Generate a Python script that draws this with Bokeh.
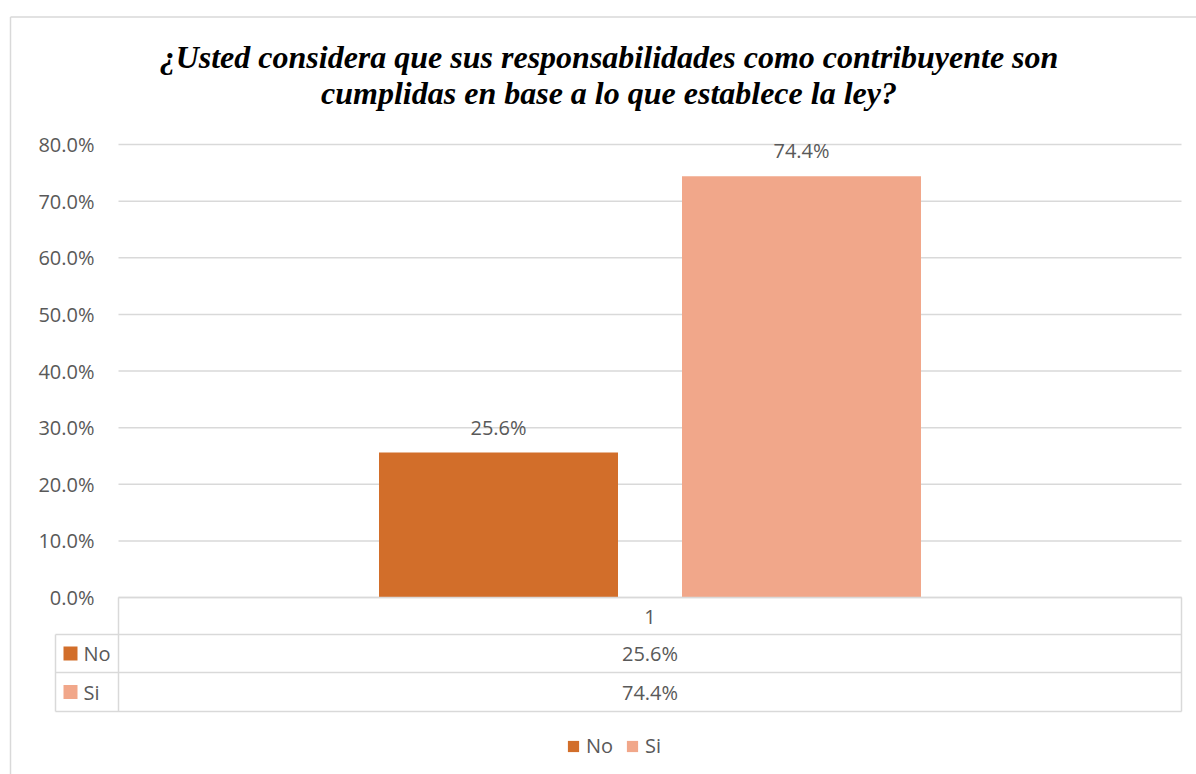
from bokeh.plotting import figure
from bokeh.models import (Range1d, LinearAxis, FixedTicker, NumeralTickFormatter,
                          Legend, LegendItem)
from bokeh.core.properties import value
from bokeh.embed import file_html
from bokeh.resources import INLINE

# ---------------- data ----------------
title_lines = ["¿Usted considera que sus responsabilidades como contribuyente son",
               "cumplidas en base a lo que establece la ley?"]
categories = ["1"]
series = ["No", "Si"]
values_no = [0.256]
values_si = [0.744]
y_ticks = [0.0, 0.1, 0.2, 0.3, 0.4, 0.5, 0.6, 0.7, 0.8]
colors = ["#D26E2A", "#F1A78A"]

# ---------------- layout (page pixels) ----------------
W, H = 1196, 774
OX, OY = 0, 0
PX_L, PX_R = 118, 1181
PY_TOP, PY_ZERO = 144, 597
Y_MAX = 0.8
xs = (PX_R - PX_L) / 1.0
ys = (PY_ZERO - PY_TOP) / Y_MAX

def dx(px):
    return 0.5 + (px - PX_L) / xs

def dy(py):
    return (PY_ZERO - py) / ys

p = figure(width=W, height=H, output_backend="svg", toolbar_location=None,
           x_range=Range1d(dx(OX), dx(OX + W)), y_range=Range1d(dy(OY + H), dy(OY)),
           x_axis_location=None, y_axis_location=None, min_border=0)
p.outline_line_color = None
p.xgrid.visible = False
p.ygrid.visible = False
p.background_fill_color = "white"
p.border_fill_color = "white"

GRID = "#D9D9D9"
TXT = "#595959"
FONT_NAME = "Open Sans"
FONT = value(FONT_NAME)
FS = "20px"

# chart border (left and top edges visible)
p.segment(x0=[dx(10), dx(10)], y0=[dy(16.5), dy(16.5)],
          x1=[dx(10), dx(1210)], y1=[dy(800), dy(16.5)],
          line_color=GRID, line_width=1.5)

# gridlines
p.segment(x0=[0.5] * len(y_ticks), y0=y_ticks, x1=[1.5] * len(y_ticks), y1=y_ticks,
          line_color=GRID, line_width=1.5)

# y axis
ax = LinearAxis(fixed_location=0.5, ticker=FixedTicker(ticks=y_ticks),
                formatter=NumeralTickFormatter(format="0.0%"))
ax.axis_line_color = None
ax.major_tick_line_color = None
ax.minor_tick_line_color = None
ax.major_tick_out = 0
ax.major_tick_in = 0
ax.major_label_standoff = 24
ax.major_label_text_font = FONT_NAME
ax.major_label_text_font_size = FS
ax.major_label_text_color = TXT
p.add_layout(ax, "left")

# bars
bar_w = 239 / xs
off = (239 / 2 + 32) / xs
x_no = [1 - off]
x_si = [1 + off]
r_no = p.vbar(x=x_no, top=values_no, bottom=0, width=bar_w, fill_color=colors[0], line_color=None)
r_si = p.vbar(x=x_si, top=values_si, bottom=0, width=bar_w, fill_color=colors[1], line_color=None)

# data labels
p.text(x=x_no + x_si, y=values_no + values_si,
       text=[f"{v * 100:.1f}%" for v in values_no + values_si],
       text_align="center", text_baseline="middle", y_offset=-25.5,
       text_font=FONT, text_font_size=FS, text_color=TXT)

# title
p.text(x=[dx(608.5)] * 2, y=[dy(56.5), dy(92.5)], text=title_lines,
       text_align="center", text_baseline="middle",
       text_font=value("Liberation Serif"), text_font_style="bold italic",
       text_font_size="32px", text_color="black")

# data table lines
hx0 = [dx(118), dx(55), dx(55), dx(55)]
hy = [dy(597), dy(634), dy(672), dy(711)]
hx1 = [dx(1181)] * 4
p.segment(x0=hx0, y0=hy, x1=hx1, y1=hy, line_color=GRID, line_width=1.5)
p.segment(x0=[dx(55), dx(118), dx(1181)], y0=[dy(634), dy(597), dy(597)],
          x1=[dx(55), dx(118), dx(1181)], y1=[dy(711)] * 3,
          line_color=GRID, line_width=1.5)

# table header and values
p.text(x=[1], y=[dy(616)], text=categories, text_align="center", text_baseline="middle",
       text_font=FONT, text_font_size=FS, text_color=TXT)
row_y = [dy(653), dy(691.5)]
p.scatter(x=[dx(70)] * 2, y=row_y, marker="square", size=14, fill_color=colors, line_color=None)
p.text(x=[dx(83)] * 2, y=row_y, text=series, text_align="left", text_baseline="middle",
       text_font=FONT, text_font_size=FS, text_color=TXT)
p.text(x=[1, 1], y=row_y, text=[f"{v * 100:.1f}%" for v in values_no + values_si],
       text_align="center", text_baseline="middle",
       text_font=FONT, text_font_size=FS, text_color=TXT)

# legend
legend = Legend(items=[LegendItem(label=series[0], renderers=[r_no]),
                       LegendItem(label=series[1], renderers=[r_si])],
                orientation="horizontal", location=(566 - OX, OY + H - 759),
                glyph_width=14, glyph_height=14, label_height=14,
                label_standoff=6, spacing=12, padding=0, margin=0,
                border_line_color=None, background_fill_alpha=0,
                label_text_font=FONT_NAME, label_text_font_size=FS,
                label_text_color=TXT)
p.add_layout(legend, "center")

open("out.html", "w").write(file_html(p, INLINE))
